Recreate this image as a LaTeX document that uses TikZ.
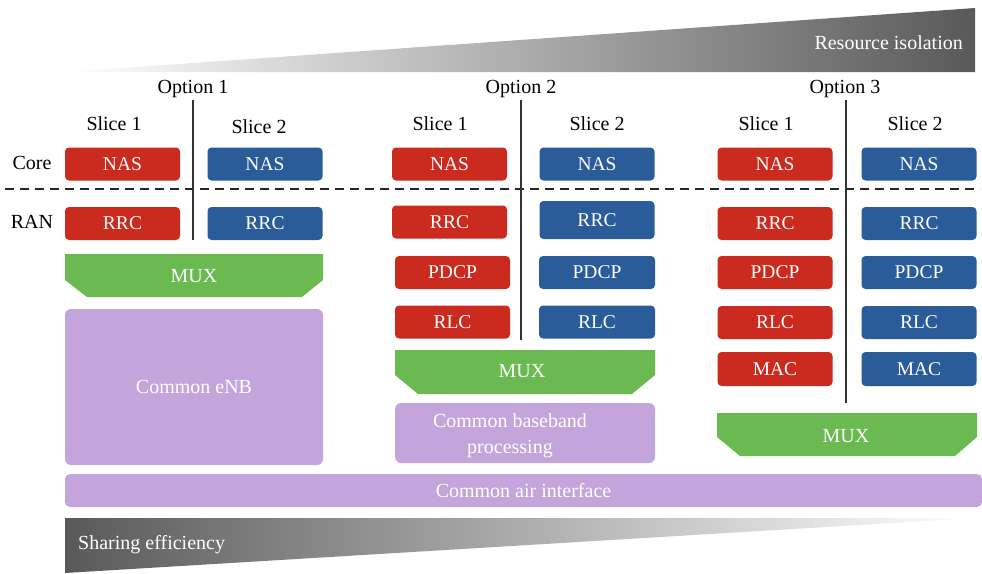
\documentclass[tikz,border=0pt]{standalone}
\usepackage{fontspec}
\setmainfont{Liberation Serif}
\begin{document}
\begin{tikzpicture}[x=1pt,y=-1pt,
  lbl/.style={font=\fontsize{20}{24}\selectfont, text=black, inner sep=0},
  wtxt/.style={font=\fontsize{20}{26}\selectfont, text=white, inner sep=0, align=center},
  bx/.style={rounded corners=4pt, minimum width=115pt, minimum height=33pt, inner sep=0, text=white, font=\fontsize{19.5}{24}\selectfont},
  redbox/.style={bx, fill=sred},
  bluebox/.style={bx, fill=sblue},
  divider/.style={draw=black!80, line width=1.2pt},
]
\definecolor{sred}{HTML}{CB2A1E}
\definecolor{sblue}{HTML}{2A5C9A}
\definecolor{sgreen}{HTML}{6BB951}
\definecolor{spurple}{HTML}{C3A5DC}
\useasboundingbox (0,0) rectangle (982,573);
% gradient wedges
\shade[left color=white, middle color=black!22, right color=black!65] (65,72) -- (975,8) -- (975,72) -- cycle;
\shade[left color=black!65, middle color=black!22, right color=white] (65,518) -- (975,518) -- (65,573) -- cycle;
\node[wtxt, anchor=east] (ri) at (963,43) {Resource isolation};
\node[wtxt, anchor=west] (se) at (78,545) {Sharing efficiency};
% dashed line
\coordinate (dl) at (5,189);
\coordinate (dr) at (980,189);
\draw[black!85, line width=1.2pt, dash pattern=on 9pt off 6pt] (dl) -- (dr);
% labels
\node[lbl] (core) at (32,163) {Core};
\node[lbl] (ran) at (32,222) {RAN};
\node[lbl] (op1) at (193,89) {Option 1};
\node[lbl] (op2) at (521,89) {Option 2};
\node[lbl] (op3) at (845,89) {Option 3};
\node[lbl] (s11) at (114,124) {Slice 1};
\node[lbl] (s12) at (259,127) {Slice 2};
\node[lbl] (s21) at (440,124) {Slice 1};
\node[lbl] (s22) at (597,124) {Slice 2};
\node[lbl] (s31) at (766,124) {Slice 1};
\node[lbl] (s32) at (915,124) {Slice 2};
% dividers
\coordinate (d1t) at (193,100);
\coordinate (d2t) at (521,100);
\coordinate (d3t) at (846,100);
\coordinate (d1b) at (193,240);
\coordinate (d2b) at (521,340);
\coordinate (d3b) at (846,403);
\draw[divider] (d1t) -- (d1b);
\draw[divider] (d2t) -- (d2b);
\draw[divider] (d3t) -- (d3b);
% Option 1
\node[redbox] (n11) at (122.5,164) {NAS};
\node[bluebox] (n12) at (265,164) {NAS};
\node[redbox] (r11) at (122.5,223.5) {RRC};
\node[bluebox] (r12) at (265,223.5) {RRC};
\fill[sgreen] (65,254) -- (323,254) -- (323,280) -- (302,297) -- (87,297) -- (65,280) -- cycle;
\node[wtxt] (m1) at (194,276) {MUX};
\node[rounded corners=6pt, fill=spurple, minimum width=258pt, minimum height=156pt, inner sep=0, text=white, font=\fontsize{20}{24}\selectfont] (enb) at (194,387) {Common eNB};
% Option 2
\node[redbox] (n21) at (449.5,164) {NAS};
\node[bluebox] (n22) at (597,164) {NAS};
\node[redbox] (r21) at (449.5,222) {RRC};
\node[bluebox, minimum height=38pt] (r22) at (597,220) {RRC};
\node[redbox] (p21) at (452.5,272.5) {PDCP};
\node[bluebox, minimum width=116pt] (p22) at (597,272.5) {PDCP};
\node[redbox] (l21) at (452.5,322) {RLC};
\node[bluebox, minimum width=116pt] (l22) at (597,322) {RLC};
\fill[sgreen] (395,350) -- (655,350) -- (655,375) -- (632,394) -- (418,394) -- (395,375) -- cycle;
\node[wtxt] (m2) at (522,371) {MUX};
\node[rounded corners=6pt, fill=spurple, minimum width=260pt, minimum height=60pt, inner sep=0] (cbp) at (525,433) {};
\node[wtxt] (cbpt) at (510,436) {Common baseband\\processing};
% Option 3
\node[redbox] (n31) at (775,164) {NAS};
\node[bluebox] (n32) at (919,164) {NAS};
\node[redbox] (r31) at (775,223.5) {RRC};
\node[bluebox] (r32) at (919,223.5) {RRC};
\node[redbox] (p31) at (775,272.5) {PDCP};
\node[bluebox] (p32) at (919,272.5) {PDCP};
\node[redbox] (l31) at (775,322.5) {RLC};
\node[bluebox] (l32) at (919,322.5) {RLC};
\node[redbox, minimum height=34pt] (a31) at (775,369) {MAC};
\node[bluebox, minimum height=34pt] (a32) at (919,369) {MAC};
\fill[sgreen] (717,413) -- (977,413) -- (977,437) -- (955,456) -- (740,456) -- (717,437) -- cycle;
\node[wtxt] (m3) at (846,436) {MUX};
% common air interface
\node[rounded corners=5pt, fill=spurple, minimum width=917pt, minimum height=33pt, inner sep=0, text=white, font=\fontsize{20}{24}\selectfont] (cai) at (523.5,490.5) {Common air interface};
\end{tikzpicture}
\end{document}
